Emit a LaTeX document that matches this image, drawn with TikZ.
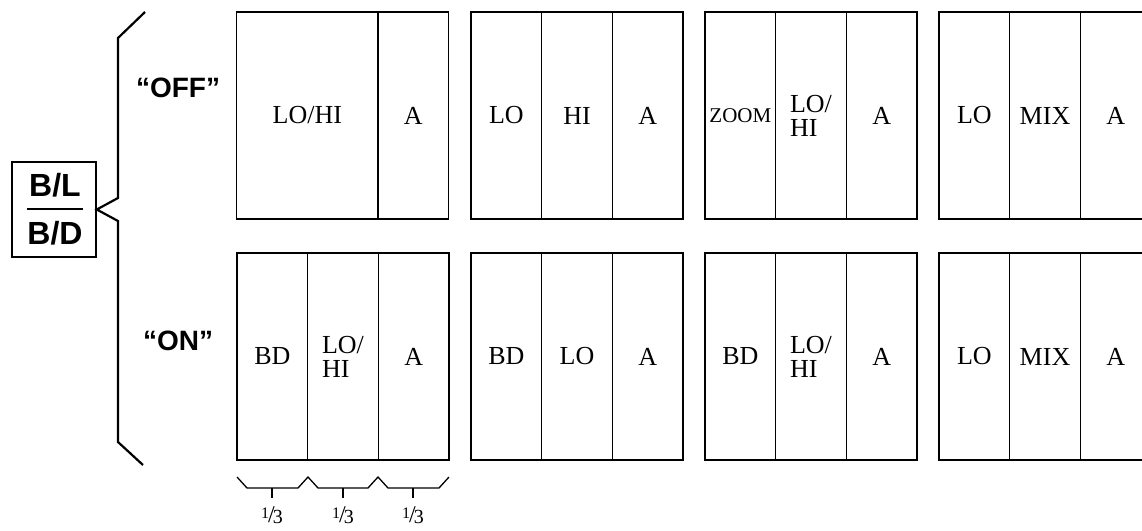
\documentclass[tikz,border=0pt]{standalone}
\usepackage{fontspec}
\setmainfont{Liberation Serif}
\setsansfont{Liberation Sans}
\begin{document}
\begin{tikzpicture}[x=1pt,y=-1pt,
  cell/.style={draw, line width=1.5pt, minimum width=70.67pt, minimum height=207pt,
    inner sep=0pt, align=left, font=\fontsize{26}{24}\selectfont},
  wide/.style={cell, minimum width=141.33pt},
  small/.style={font=\fontsize{21}{21}\selectfont},
  sflbl/.style={font=\sffamily\bfseries\fontsize{28}{28}\selectfont, inner sep=0pt},
  bltext/.style={font=\sffamily\bfseries\fontsize{32}{32}\selectfont, inner sep=0pt},
  brace/.style={line width=2.2pt, line join=miter},
  sbrace/.style={line width=1.3pt},
  frac/.style={inner sep=0pt}]
\useasboundingbox (0,0) rectangle (1142,530);
\clip (0,0) rectangle (1142,530);
\newcommand{\onethird}{\raisebox{.42em}{\fontsize{16}{16}\selectfont 1}\kern-.1em{\fontsize{24}{24}\selectfont /}\kern-.2em\raisebox{-.12em}{\fontsize{20}{20}\selectfont 3}}
% top row (y centre 115.5)
\node[wide] (t1a) at (307.33,115.5) {LO/HI};
\node[cell] (t1b) at (413.33,115.5) {A};
\node[cell] (t2a) at (506.33,115.5) {LO};
\node[cell] (t2b) at (577.00,115.5) {HI};
\node[cell] (t2c) at (647.67,115.5) {A};
\node[cell, small] (t3a) at (740.33,115.5) {ZOOM};
\node[cell] (t3b) at (811.00,115.5) {LO/\\HI};
\node[cell] (t3c) at (881.67,115.5) {A};
\node[cell] (t4a) at (974.33,115.5) {LO};
\node[cell] (t4b) at (1045.00,115.5) {MIX};
\node[cell] (t4c) at (1115.67,115.5) {A};
% bottom row (y centre 356.5)
\node[cell] (b1a) at (272.33,356.5) {BD};
\node[cell] (b1b) at (343.00,356.5) {LO/\\HI};
\node[cell] (b1c) at (413.67,356.5) {A};
\node[cell] (b2a) at (506.33,356.5) {BD};
\node[cell] (b2b) at (577.00,356.5) {LO};
\node[cell] (b2c) at (647.67,356.5) {A};
\node[cell] (b3a) at (740.33,356.5) {BD};
\node[cell] (b3b) at (811.00,356.5) {LO/\\HI};
\node[cell] (b3c) at (881.67,356.5) {A};
\node[cell] (b4a) at (974.33,356.5) {LO};
\node[cell] (b4b) at (1045.00,356.5) {MIX};
\node[cell] (b4c) at (1115.67,356.5) {A};
% B/L B/D box
\node[draw, line width=1.6pt, minimum width=84pt, minimum height=95pt, inner sep=0pt] (bl) at (54,209.5) {};
\node[bltext] (blt) at (55,185) {B/L};
\node[bltext] (bdt) at (55,233) {B/D};
\coordinate (rl) at (27,208.5);
\coordinate (rr) at (83,208.5);
\draw[line width=2pt] (rl) -- (rr);
% big brace
\coordinate (p1) at (145,12);
\coordinate (p2) at (118,38);
\coordinate (p3) at (118,198);
\coordinate (p5) at (118,221);
\coordinate (p6) at (118,442);
\coordinate (p7) at (143,465);
\draw[brace] (p1) -- (p2) -- (p3) -- (bl.east) -- (p5) -- (p6) -- (p7);
\node[sflbl] (off) at (178,88) {“OFF”};
\node[sflbl] (on) at (178,341) {“ON”};
% small braces
\coordinate (s0) at (237,477);
\coordinate (s1) at (308,477);
\coordinate (s2) at (378,477);
\coordinate (s3) at (449,477);
\draw[sbrace] (s0) -- (247,488) -- (298,488) -- (s1) -- (318,488) -- (368,488) -- (s2) -- (388,488) -- (439,488) -- (s3);
\foreach \x/\n in {272/f1,343/f2,413/f3}{
  \draw[sbrace] (\x,488) -- (\x,498);
  \node[frac] (\n) at (\x,515) {\onethird};
}
\end{tikzpicture}
\end{document}
